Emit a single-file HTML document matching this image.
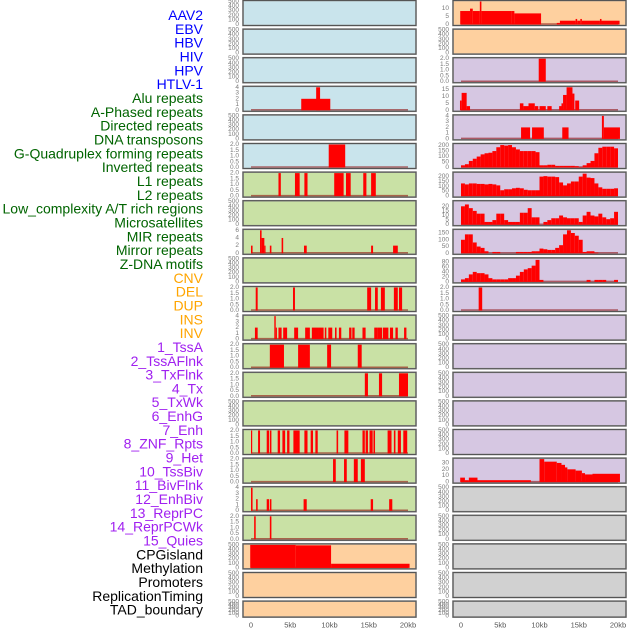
<!DOCTYPE html>
<html><head><meta charset="utf-8"><style>
html,body{margin:0;padding:0;background:#fff;}
svg{display:block;font-family:"Liberation Sans",sans-serif;}
</style></head><body>
<svg id="chart" width="630" height="630" viewBox="0 0 630 630" xmlns="http://www.w3.org/2000/svg"></svg>
<script>
const panelLabels = ["AAV2","EBV","HBV","HIV","HPV","HTLV-1","Alu repeats","A-Phased repeats","Directed repeats","DNA transposons","G-Quadruplex forming repeats","Inverted repeats","L1 repeats","L2 repeats","Low_complexity A/T rich regions","Microsatellites","MIR repeats","Mirror repeats","Z-DNA motifs","CNV","DEL","DUP","INS","INV","1_TssA","2_TssAFlnk","3_TxFlnk","4_Tx","5_TxWk","6_EnhG","7_Enh","8_ZNF_Rpts","9_Het","10_TssBiv","11_BivFlnk","12_EnhBiv","13_ReprPC","14_ReprPCWk","15_Quies","CPGisland","Methylation","Promoters","ReplicationTiming","TAD_boundary"];
const labelGroups = [6,13,5,15,5];
const groupColors = ["#0000ff","#006400","#ffa500","#a020f0","#000000"];
const xTickValues = [0,5,10,15,20];
const xTickLabels = ["0","5kb","10kb","15kb","20kb"];
const E = [0,100,200,300,400,500];
const T2 = [0,0.5,1,1.5,2];
const panelMax = [500,500,500,4,500,2, 2,500,6,500,2,4,2,2,500,2,2,4,2,500,500,500,
  14.5,500,2,16.5,4,210,236,25,170,92,2,500,500,500,500,500,36,500,500,500,500,500];
const panelTicks = [E,E,E,[0,1,2,3,4],E,T2, T2,E,[0,2,4,6],E,T2,[0,1,2,3,4],T2,T2,E,T2,T2,[0,1,2,3,4],T2,E,E,E,
  [0,5,10],E,T2,[0,5,10,15],[0,1,2,3,4],[0,50,100,150,200],[0,50,100,150,200],[0,5,10,15,20],[0,50,100,150],[0,20,40,60,80],T2,E,E,E,E,E,[0,10,20,30],E,E,E,E,E];
const panelSegments = [
 [],[],[],
 [[6.4,10.1,2],[8.3,8.8,4]],
 [],
 [[9.9,12.0,2]],
 [[3.5,3.8,2],[5.6,6.2,2],[6.8,7.2,2],[10.6,11.8,2],[12.1,12.7,2],[14.3,14.7,2],[15.3,15.9,2]],
 [],
 [[0,0.2,2],[1.15,1.35,6],[1.35,1.7,4],[1.7,1.85,2],[2.4,2.6,2],[3.9,4.1,4],[6.75,7.1,2],[15.3,15.55,2],[18.1,18.7,2]],
 [],
 [[0.6,0.85,2],[5.35,5.6,2],[14.8,15.3,2],[15.8,16.15,2],[16.55,17.05,2],[18.2,18.7,2],[18.85,19.25,2]],
 [[0.5,0.85,2],[2.97,3.15,4],[3.15,3.3,2],[3.5,3.9,2],[4.1,4.6,2],[5.5,6.0,2],[6.9,7.5,2],[7.75,8.6,2],[8.6,9.25,2],[9.4,9.6,2],[9.85,10.35,2],[10.7,10.9,2],[11.2,11.5,2],[12.5,12.8,2],[12.9,13.2,2],[14.2,14.6,2],[15.7,16.1,2],[16.1,16.7,2],[16.8,17.5,2],[17.7,18.1,2],[18.4,18.7,2],[19.5,19.8,2]],
 [[2.4,4.2,2],[6.0,7.5,2],[9.7,10.2,2],[13.6,14.1,2]],
 [[14.5,14.9,2],[16.3,16.7,2],[18.85,20.0,2]],
 [],
 [[0,0.13,2],[0.9,1.15,2],[2.0,2.3,2],[2.4,2.6,2],[3.4,3.7,2],[4.0,4.35,2],[4.6,4.9,2],[5.4,6.2,2],[6.8,7.2,2],[7.6,7.9,2],[8.2,8.5,2],[10.9,11.1,2],[11.9,12.4,2],[14.2,14.5,2],[14.6,14.9,2],[15.1,15.5,2],[15.6,15.8,2],[17.4,17.9,2],[18.2,18.4,2],[18.7,19.1,2],[19.4,19.9,2]],
 [[10.45,10.8,2],[11.85,12.2,2],[13.1,13.6,2],[14.0,14.5,2]],
 [[0,0.2,4],[0.65,0.85,2],[2.0,2.3,2],[2.4,2.6,2],[6.7,7.1,2],[15.25,15.55,2],[17.6,18.0,2]],
 [[0.4,0.6,2],[2.4,2.6,2]],
 [[-0.1,5.7,500],[5.7,10.2,490],[10.2,20.2,90]],
 [],[],
 [[-0.1,1.15,8.5],[1.15,1.5,10],[1.5,2.4,8.5],[2.4,2.6,14.5],[2.6,6.45,8.5],[6.45,6.8,8.5],[6.8,10.2,7],[12.2,12.6,1],[12.6,14.6,2.4],[14.6,14.8,3.5],[14.8,15.2,2.4],[15.2,15.4,3.5],[15.4,17.7,2.4],[17.7,17.9,3.5],[17.9,20.2,2.4]],
 [],
 [[9.9,10.8,2]],
 [[-0.13,0.08,7],[0.08,0.72,12.5],[0.72,1.15,3],[7.5,7.95,5],[7.95,8.6,3],[8.6,9.4,5],[9.4,9.85,3],[10.0,10.8,3],[11.0,11.55,3],[12.5,12.8,3],[12.8,13.0,5],[13.0,13.45,11],[13.45,14.2,16.5],[14.2,14.45,12],[14.55,15.05,7]],
 [[7.65,8.8,2],[9.05,10.55,2],[12.9,13.7,2],[17.95,18.2,4],[18.2,20.25,2]],
 null,null,null,null,null,
 [[2.25,2.7,2]],
 [],[],[],[],[],
 [[-0.1,0.5,7],[0.5,1.0,3],[1.0,2.1,7],[2.1,8.9,3],[10.0,10.6,36],[10.6,12.2,32],[12.2,12.8,30],[12.8,13.25,27],[13.25,13.55,23],[13.55,14.6,20],[14.6,15.4,18],[15.4,15.8,14],[15.8,16.75,12],[16.75,20.25,13]],
 [],[],[],[],[]
];
const gquadBins = [20,30,60,80,100,120,130,135,150,185,205,200,205,185,165,150,150,150,150,140,20,20,25,25,15,15,15,15,15,12,5,20,40,60,130,180,190,190,190,175];
const invertedBins = [130,120,130,130,125,125,120,125,120,110,60,70,70,80,85,80,65,60,60,60,200,205,200,200,195,140,110,130,150,150,200,230,190,185,130,90,75,75,75,80];
const l1Bins = [20,22,18,15,12,12,3,3,5,12,12,5,3,3,3,13,13,18,8,8,0,3,5,7,7,10,8,7,7,7,3,10,14,10,9,12,8,6,7,14];
const l2Bins = [100,140,140,80,50,40,15,0,10,10,0,0,0,0,10,10,10,10,15,15,35,30,25,25,40,60,140,170,150,130,100,10,15,15,5,0,0,0,0,0];
const lowComplexityBins = [10,15,30,40,35,35,30,15,10,10,10,10,15,15,25,40,50,55,65,88,8,0,0,0,0,0,0,0,0,0,0,0,8,0,8,8,8,0,0,8];
const binWidthKb = 0.5;
const densePanelIndex = [27,28,29,30,31];
const denseBins = [gquadBins,invertedBins,l1Bins,l2Bins,lowComplexityBins];

const NS = "http://www.w3.org/2000/svg";
const svg = document.getElementById("chart");
function mk(tag, attrs, parent){const el=document.createElementNS(NS,tag);for(const k in attrs)el.setAttribute(k,attrs[k]);(parent||svg).appendChild(el);return el;}

densePanelIndex.forEach((p,j)=>{
  const segs=[];
  denseBins[j].forEach((v,i)=>{ if(v>0) segs.push([i*binWidthKb,(i+1)*binWidthKb,v]); });
  panelSegments[p]=segs;
});

const colX = [243,453];
const panelW = 173;
function rowTop(r){return 0.5 + r*28.6;}
function rowH(r){return r===21?16:25;}
function xScale(col,kb){return colX[col]+8+kb*7.85;}
function bgColor(col,r){
  if(col===0){ if(r<6) return "#c9e4ec"; if(r<19) return "#c9e1a5"; return "#fed09f"; }
  if(r<2) return "#fed09f"; if(r<17) return "#d6c7e2"; return "#d1d1d1";
}

// labels
let li=0;
labelGroups.forEach((n,g)=>{
  for(let k=0;k<n;k++){
    const t=mk("text",{x:203,y:15+13.83*li,"text-anchor":"end","dominant-baseline":"central","font-size":"14",fill:groupColors[g]});
    t.textContent=panelLabels[li];
    
    
    li++;
  }
});

for(let p=0;p<44;p++){
  const col=p<22?0:1, r=p%22;
  const top=rowTop(r), h=rowH(r), x0=colX[col];
  const g=mk("g",{});
  
  
  const bg=mk("rect",{x:x0,y:top,width:panelW,height:h,fill:bgColor(col,r),stroke:"#8a8a8a","stroke-width":"1.6"},g);
  
  
  const yb=top+h-1, ph=h-2, mx=panelMax[p];
  const yS=v=>yb-v/mx*ph;
  const segs=panelSegments[p]||[];
  if(segs.length){
    const bl=mk("line",{x1:xScale(col,0),x2:xScale(col,20),y1:yb-0.5,y2:yb-0.5,stroke:"rgba(139,0,0,0.55)","stroke-width":"1.5"},g);
    
    
  }
  segs.forEach(s=>{
    const xa=Math.max(x0+1,xScale(col,s[0])), xb=Math.min(x0+panelW-1,xScale(col,s[1]));
    const v=Math.min(s[2],mx);
    const b=mk("rect",{x:xa,y:yS(v),width:Math.max(1.2,xb-xa),height:yb-yS(v),fill:"#ff0000"},g);
    
    
  });
  const border=mk("rect",{x:x0,y:top,width:panelW,height:h,fill:"none",stroke:"#555","stroke-width":"1"},g);
  
  
  const ticks=panelTicks[p];
  const fmt = ticks===T2 ? (v=>v.toFixed(1)) : (v=>String(v));
  ticks.forEach(v=>{
    const t=mk("text",{x:x0-4,y:yS(v),"text-anchor":"end","dominant-baseline":"central","font-size":"6.5",fill:"#7a7a7a"},g);
    t.textContent=fmt(v);
    
    
  });
}

[0,1].forEach(col=>{
  xTickValues.forEach((v,i)=>{
    const t=mk("text",{x:xScale(col,v),y:625,"text-anchor":"middle","dominant-baseline":"central","font-size":"7.5",fill:"#555"});
    t.textContent=xTickLabels[i];
    
    
  });
});
</script>
</body></html>
